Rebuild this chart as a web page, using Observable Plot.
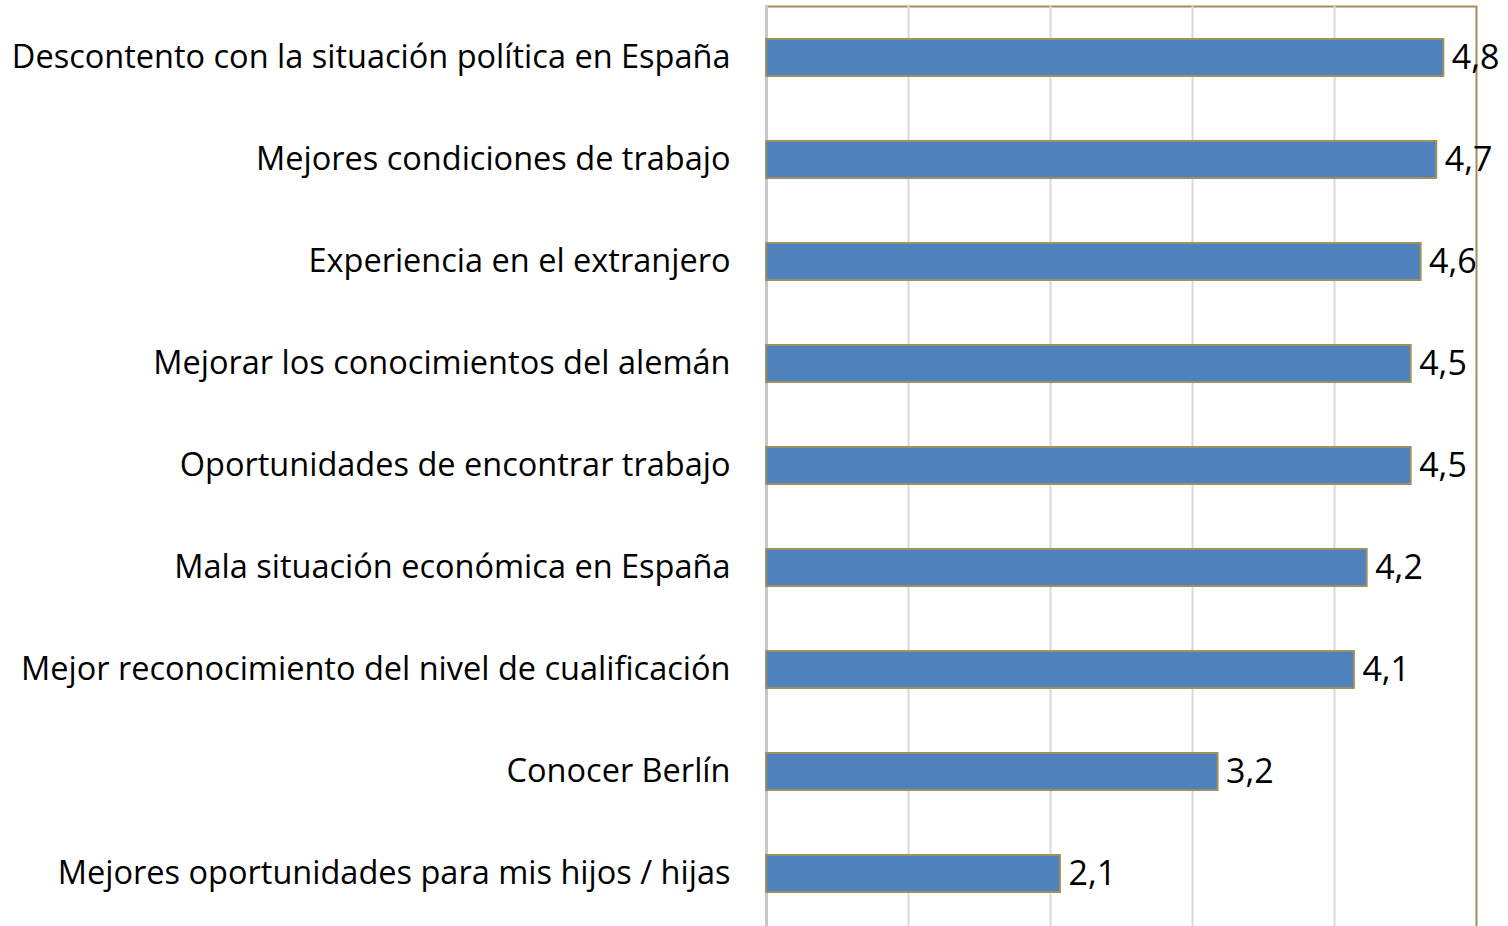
<!DOCTYPE html>
<html>
<head>
<meta charset="utf-8">
<script src="https://cdn.jsdelivr.net/npm/d3@7"></script>
<script src="https://cdn.jsdelivr.net/npm/@observablehq/plot@0.6"></script>
<style>
  html, body { margin: 0; padding: 0; background: #fff; overflow: hidden; }
</style>
</head>
<body>
<div id="chart"></div>
<script>
const categories = [
  "Descontento con la situación política en España",
  "Mejores condiciones de trabajo",
  "Experiencia en el extranjero",
  "Mejorar los conocimientos del alemán",
  "Oportunidades de encontrar trabajo",
  "Mala situación económica en España",
  "Mejor reconocimiento del nivel de cualificación",
  "Conocer Berlín",
  "Mejores oportunidades para mis hijos / hijas"
];
const values = [4.77, 4.72, 4.61, 4.54, 4.54, 4.23, 4.14, 3.18, 2.07];
const valueLabels = ["4,8", "4,7", "4,6", "4,5", "4,5", "4,2", "4,1", "3,2", "2,1"];
const gridTicks = [1, 2, 3, 4];

const data = categories.map((c, i) => ({category: c, value: values[i], label: valueLabels[i]}));

const olive = "#9d915f";
const chart = Plot.plot({
  width: 1508,
  height: 934,
  marginLeft: 766,
  marginRight: 32,
  marginTop: 6,
  marginBottom: 0,
  style: {fontFamily: "'Open Sans', sans-serif", fontSize: "32px", color: "#000", background: "#fff"},
  x: {domain: [0, 5], axis: null},
  y: {domain: categories, range: [3, 927], paddingInner: 0.64, paddingOuter: 0.32, label: null},
  marks: [
    Plot.frame({stroke: olive, strokeWidth: 2}),
    Plot.ruleX(gridTicks, {stroke: "#d9d9d9", strokeWidth: 2}),
    Plot.ruleX([0], {stroke: "#c8c8c8", strokeWidth: 3}),
    Plot.barX(data, {x: "value", y: "category", fill: "#4f81bd", stroke: olive, strokeWidth: 2}),
    Plot.text(data, {x: "value", y: "category", text: "label", textAnchor: "start", dx: 8, fontSize: 34, fill: "#000"}),
    Plot.axisY({tickSize: 0, tickPadding: 36, fontSize: 32.5, label: null})
  ]
});
document.getElementById("chart").appendChild(chart);
</script>
</body>
</html>
